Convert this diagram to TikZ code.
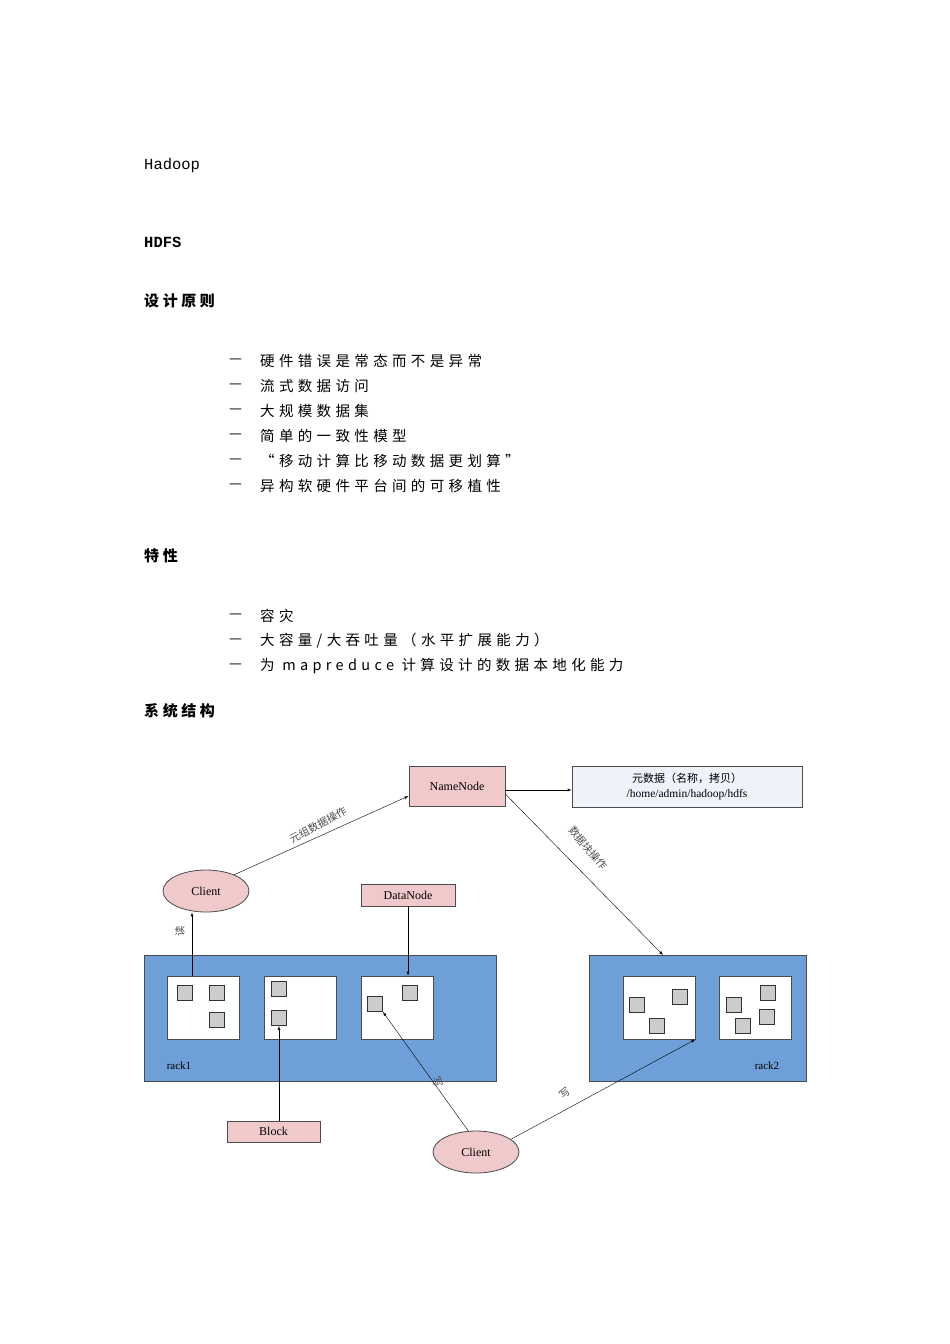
\documentclass[tikz,border=0pt]{standalone}
\usepackage{fontspec}
\usetikzlibrary{shapes.geometric}
\setmainfont{Liberation Serif}
\newfontfamily\cjk{Noto Sans CJK SC}
\newfontfamily\mono{Liberation Mono}
\definecolor{rackblue}{HTML}{6F9FD8}
\definecolor{pinkfill}{HTML}{F0CACA}
\definecolor{metafill}{HTML}{EEF2FA}
\begin{document}
\begin{tikzpicture}[x=1pt,y=-1pt,
  txt/.style={anchor=west,inner sep=0pt,font=\cjk\fontsize{14.5}{16}\selectfont},
  head/.style={anchor=west,inner sep=0pt,font=\cjk\bfseries\fontsize{15}{16}\selectfont},
  pinkbox/.style={draw=black!70,fill=pinkfill,thick,font=\fontsize{12}{14}\selectfont},
  cl/.style={draw=black!70,fill=pinkfill,ellipse,thick},
  rack/.style={draw=black!70,fill=rackblue,thick},
  inbox/.style={draw=black!70,fill=white,thick},
  blk/.style={draw=black!80,fill=black!20,thick,minimum size=15pt,inner sep=0pt},
  arr/.style={-latex,thin},
  lab/.style={font=\cjk\fontsize{10.5}{11}\selectfont,text=black!70}]
\useasboundingbox (0,0) rectangle (950,1344);
\node[txt,font=\mono\fontsize{15.5}{17}\selectfont] (t1) at (144,165) {Hadoop};
\node[txt,font=\mono\bfseries\fontsize{15.5}{17}\selectfont] (t2) at (144,242) {HDFS};
\node[head] (h1) at (144,301) {\addfontfeature{LetterSpace=24}设计原则};
\foreach \y/\s [count=\i] in {361/{硬件错误是常态而不是异常},386/{流式数据访问},411/{大规模数据集},436/{简单的一致性模型},461/{“移动计算比移动数据更划算”},486/{异构软硬件平台间的可移植性}}{
  \node[txt] (d\i) at (229,\y) {—};
  \node[txt] (l\i) at (260,\y) {\addfontfeature{LetterSpace=30}\s};
}
\node[head] (h2) at (144,556) {\addfontfeature{LetterSpace=24}特性};
\foreach \y/\s [count=\i] in {616/{容灾},641/{大容量/大吞吐量（水平扩展能力）},666/{为 mapreduce 计算设计的数据本地化能力}}{
  \node[txt] (e\i) at (229,\y) {—};
  \node[txt] (m\i) at (260,\y) {\addfontfeature{LetterSpace=30}\s};
}
\node[head] (h3) at (144,711) {\addfontfeature{LetterSpace=24}系统结构};
% racks
\draw[rack] (144,955) rectangle (496,1081);
\draw[rack] (589,955) rectangle (806,1081);
\node[font=\fontsize{11}{12}\selectfont] (r1) at (179,1066) {rack1};
\node[font=\fontsize{11}{12}\selectfont] (r2) at (767,1066) {rack2};
\node[inbox,minimum width=72pt,minimum height=63pt] (b1) at (203.5,1007.5) {};
\node[inbox,minimum width=72pt,minimum height=63pt] (b2) at (300,1007.5) {};
\node[inbox,minimum width=72pt,minimum height=63pt] (b3) at (397,1007.5) {};
\node[inbox,minimum width=72pt,minimum height=63pt] (b4) at (659,1007.5) {};
\node[inbox,minimum width=72pt,minimum height=63pt] (b5) at (755.5,1007.5) {};
\foreach \p [count=\i] in {(185,993),(217,993),(217,1020),(279,989),(279,1018),(375,1004),(410,993),(637,1005),(680,997),(657,1026),(734,1005),(768,993),(767,1017),(743,1026)}
  \node[blk] (s\i) at \p {};
% nodes
\node[pinkbox,minimum width=96pt,minimum height=40pt] (nn) at (457,786) {NameNode};
\node[draw=black!70,fill=metafill,thick,minimum width=230pt,minimum height=41pt,align=center,font=\fontsize{11.5}{15}\selectfont] (meta) at (687,786.5) {{\cjk\fontsize{11}{14}\selectfont 元数据（名称，拷贝）}\\/home/admin/hadoop/hdfs};
\node[cl,minimum width=86pt,minimum height=42pt,font=\fontsize{12}{14}\selectfont] (c1) at (206,891) {Client};
\node[pinkbox,minimum width=94pt,minimum height=22pt] (dn) at (408,895) {DataNode};
\node[pinkbox,minimum width=93pt,minimum height=21pt] (bl) at (273.5,1131.5) {Block};
\node[cl,minimum width=86pt,minimum height=42pt,font=\fontsize{12}{14}\selectfont] (c2) at (476,1152) {Client};
\coordinate (ra2) at (663,955);
% arrows
\draw[arr] (c1.30) -- (nn.west |- 0,796);
\draw[arr] (nn.east |- 0,790) -- (meta.west |- 0,790);
\draw[arr] (nn.east |- 0,794) -- (ra2);
\draw[arr] (b1.north -| 192,0) -- (c1.south -| 192,0);
\draw[arr] (dn.south) -- (dn.south |- b1.north);
\draw[arr] (bl.north -| s4.south) -- (s5.south);
\draw[arr] (c2.110) -- (s6.south east);
\draw[arr] (c2.20) -- (b4.south east);
% labels
\node[lab,rotate=28] (la1) at (318,825) {元组数据操作};
\node[lab,rotate=-50] (la2) at (588,848) {数据块操作};
\node[lab,rotate=90] (la3) at (180,931) {读};
\node[lab,rotate=-70] (la4) at (438,1082) {写};
\node[lab,rotate=40] (la5) at (565,1093) {写};
\end{tikzpicture}
\end{document}
